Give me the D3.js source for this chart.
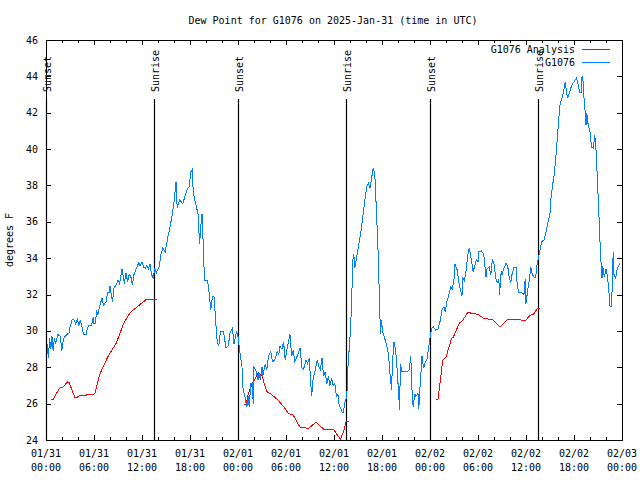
<!DOCTYPE html>
<html><head><meta charset="utf-8">
<script src="https://cdn.jsdelivr.net/npm/d3@7"></script>
<style>
body{margin:0;background:#fff;}
svg{display:block;}
text{font-family:"DejaVu Sans Mono",monospace;font-size:10px;fill:#000;}
</style></head><body>
<svg id="chart" width="640" height="480"></svg>
<script>
const chartTitle = "Dew Point for G1076 on 2025-Jan-31 (time in UTC)";
const yLabel = "degrees F";
const startTime = Date.UTC(2025, 0, 31, 0, 0);
const endTime = Date.UTC(2025, 1, 3, 0, 0);
const yTicks = [24, 26, 28, 30, 32, 34, 36, 38, 40, 42, 44, 46];
const seriesNames = ["G1076 Analysis", "G1076"];

// observed dew point (hours after 01/31 00:00 UTC)
const obsHours = [0.0,0.15,0.3,0.45,0.6,0.75,0.9,1.05,1.2,1.5,1.8,1.96,2.2,2.6,2.9,3.0,3.3,3.5,3.7,3.9,4.1,4.3,4.5,4.7,5.0,5.2,5.4,5.7,5.9,6.0,6.2,6.3,6.5,6.7,7.0,7.2,7.5,7.7,7.9,8.0,8.3,8.5,8.8,9.0,9.2,9.5,9.8,10.0,10.2,10.4,10.6,10.8,11.0,11.3,11.6,11.75,12.0,12.2,12.4,12.6,12.8,13.0,13.2,13.4,13.6,13.8,14.0,14.2,14.3,14.6,14.9,15.2,15.5,15.8,16.0,16.25,16.4,16.7,17.1,17.3,17.6,17.9,18.1,18.3,18.4,18.7,19.0,19.2,19.4,19.5,19.7,19.8,20.2,20.4,20.6,20.8,21.0,21.2,21.4,21.6,21.8,22.2,22.5,22.8,23.0,23.3,23.5,23.8,24.0,24.2,24.5,24.6,24.9,25.1,25.3,25.4,25.6,25.8,25.9,26.0,26.3,26.5,26.6,26.8,27.0,27.1,27.4,27.6,27.7,27.9,28.1,28.3,28.6,28.9,29.1,29.25,29.5,29.7,29.9,30.1,30.3,30.5,30.7,30.9,31.1,31.3,31.5,31.75,32.0,32.2,32.5,32.7,32.9,33.1,33.2,33.4,33.7,33.9,34.1,34.3,34.5,34.7,34.9,35.1,35.3,35.5,35.7,35.9,36.1,36.3,36.5,36.6,37.0,37.2,37.3,37.6,37.8,37.9,38.1,38.3,38.4,38.5,38.6,38.8,39.2,39.4,39.6,39.8,40.1,40.3,40.5,40.7,40.9,41.1,41.3,41.5,41.7,41.8,41.9,42.1,42.4,42.6,42.8,43.0,43.2,43.3,43.5,43.7,43.9,44.1,44.2,44.3,44.5,44.8,45.1,45.4,45.6,45.7,45.9,46.1,46.2,46.5,46.6,46.7,47.0,47.2,47.4,47.6,47.8,48.0,48.2,48.4,48.7,49.0,49.3,49.5,49.75,49.9,50.1,50.4,50.6,50.8,51.0,51.1,51.4,51.6,51.8,52.0,52.1,52.3,52.5,52.7,52.9,53.1,53.4,53.6,53.8,54.0,54.1,54.4,54.7,54.8,55.0,55.1,55.4,55.6,55.8,56.0,56.2,56.4,56.6,56.7,56.9,57.0,57.2,57.5,57.7,57.9,58.1,58.25,58.5,58.75,58.9,59.1,59.5,59.75,59.9,60.0,60.2,60.4,60.6,60.8,61.0,61.2,61.4,61.6,61.75,61.95,62.25,62.5,62.7,63.0,63.1,63.3,63.5,63.7,63.9,64.1,64.25,64.4,64.6,64.9,65.1,65.2,65.5,65.7,66.0,66.3,66.5,66.7,66.9,67.0,67.1,67.2,67.4,67.5,67.6,67.7,68.0,68.2,68.4,68.5,68.6,68.8,68.9,69.1,69.25,69.4,69.5,69.6,69.8,70.0,70.2,70.4,70.5,70.7,70.9,71.0,71.2,71.4,71.6,71.75];
const obsValues = [28.6,29.3,28.5,29.6,29.0,29.7,28.9,29.6,29.3,29.8,29.7,28.9,29.6,29.8,29.9,30.2,30.65,30.6,30.4,30.65,30.3,30.6,30.2,29.8,29.8,30.2,30.3,30.3,30.75,30.4,30.4,31.15,30.9,31.35,31.8,31.4,31.6,32.1,32.1,32.45,31.6,32.35,32.55,32.8,32.6,33.4,32.6,33.2,32.7,33.1,33.0,32.55,33.1,33.45,33.75,33.55,33.8,33.5,33.45,33.6,33.4,33.7,33.1,32.9,33.45,33.2,33.4,33.6,34.1,34.55,34.35,35.1,35.7,36.45,37.1,38.2,36.75,37.2,37.0,37.3,37.75,37.95,38.75,38.9,37.65,37.0,36.45,34.8,36.0,36.45,34.25,32.8,32.8,32.05,31.15,31.9,31.9,30.6,29.4,29.15,29.95,29.95,29.05,29.2,29.9,30.15,29.3,29.95,29.7,28.95,28.0,26.9,26.3,25.8,26.4,25.8,27.1,27.15,26.0,28.0,27.75,27.3,27.75,27.3,28.0,27.5,28.2,27.85,28.3,28.7,28.85,28.3,28.4,28.85,28.7,29.15,29.0,29.4,28.4,28.95,29.4,29.8,28.6,28.95,28.3,28.5,28.75,29.05,27.95,27.9,28.4,28.2,28.5,27.1,26.4,27.4,27.95,28.4,28.05,27.85,28.5,27.5,27.75,27.1,27.5,27.0,27.4,27.0,27.1,26.4,26.5,26.0,25.55,25.5,26.0,26.4,28.6,28.95,30.4,33.0,34.25,34.05,33.45,34.0,35.0,35.55,36.3,37.0,37.95,38.1,37.85,38.4,38.95,38.6,36.65,34.45,31.5,29.85,30.6,29.9,29.5,29.15,28.75,27.65,26.75,28.2,29.4,28.95,27.85,26.4,25.65,28.2,27.75,27.75,27.75,27.85,28.6,27.1,25.8,26.55,26.4,26.55,25.7,26.55,28.6,27.95,28.3,28.4,28.95,29.6,30.15,30.23,30.05,30.1,30.6,31.15,31.33,31.05,31.6,32.05,32.4,32.3,32.85,33.7,33.35,32.7,32.25,31.95,32.95,32.75,33.3,34.1,34.55,34.1,33.25,33.6,33.9,33.8,34.35,34.4,34.25,33.9,32.95,33.4,33.5,33.1,33.9,33.7,32.95,32.65,32.85,32.0,33.3,33.1,33.4,33.7,33.6,32.95,32.65,33.1,33.5,33.5,32.55,32.1,32.1,32.0,32.85,31.5,32.2,32.75,33.5,33.1,32.95,32.95,33.7,34.1,34.45,34.9,35.0,35.45,35.9,36.45,37.2,37.95,38.5,39.4,40.5,41.7,42.4,42.7,42.95,43.7,43.05,42.8,43.2,43.5,43.7,43.9,43.6,43.1,43.1,43.95,44.0,43.05,42.05,41.3,42.0,41.5,40.95,40.1,40.05,40.4,40.75,39.7,38.5,36.55,34.9,33.6,32.9,33.55,32.95,33.4,32.95,32.0,31.35,31.35,34.35,33.1,32.9,33.4,33.6,33.7];

// analysis dew point (null = gap)
const anaHours = [0.6,0.9,1.7,2.1,2.7,2.9,3.6,3.9,4.25,5.9,6.1,6.7,7.7,8.8,9.7,10.5,11.75,12.6,13.9,
  14.0,
  24.7,25.0,25.3,25.8,26.5,26.96,27.6,28.2,29.0,29.7,30.3,30.9,31.75,32.8,33.75,34.7,35.9,36.8,37.2,37.5,37.9,
  38.0,
  48.7,49.0,49.6,50.0,50.7,50.9,51.7,51.96,52.7,53.4,54.0,54.7,55.9,56.75,57.7,59.0,59.9,60.5,60.9,61.4,61.75];
const anaValues = [26.25,26.25,26.85,26.9,27.2,27.15,26.35,26.35,26.45,26.5,26.55,27.6,28.55,29.35,30.4,31.0,31.45,31.75,31.75,
  null,
  25.96,25.96,26.57,27.1,27.67,27.57,26.66,26.5,26.2,25.83,25.47,25.37,24.7,24.64,24.97,24.6,24.6,24.04,24.46,25.0,25.0,
  null,
  26.24,26.24,28.4,28.55,29.6,29.65,30.45,30.5,31.0,30.97,30.9,30.7,30.6,30.23,30.64,30.64,30.55,30.86,30.9,31.22,31.24];

const sunHours = [0.05, 13.55, 24.05, 37.55, 48.05, 61.5];
const sunLabels = ["Sunset","Sunrise","Sunset","Sunrise","Sunset","Sunrise"];

const colors = {analysis:"#ff0000", obs:"#0080ff"};

const svg = d3.select("#chart");
const m = {left:46, right:622, top:40, bottom:440};
const toDate = h => new Date(startTime + h*3600e3);
const x = d3.scaleUtc().domain([new Date(startTime), new Date(endTime)]).range([m.left, m.right]);
const y = d3.scaleLinear().domain([24, 46]).range([m.bottom, m.top]);

// title
svg.append("text").attr("x", 333).attr("y", 24).attr("text-anchor","middle").text(chartTitle);
// y label
svg.append("text").attr("transform","translate(13,240) rotate(-90)").attr("text-anchor","middle").text(yLabel);

// axes
const majorTicks = d3.utcHour.every(6).range(new Date(startTime), new Date(endTime + 1));
const minorTicks = d3.utcHour.every(2).range(new Date(startTime), new Date(endTime + 1));
const gx = svg.append("g").attr("shape-rendering","crispEdges");
minorTicks.forEach(t => {
  const px = Math.round(x(t)) + 0.5;
  const len = (t.getUTCHours() % 6 === 0) ? 5 : 3;
  gx.append("line").attr("x1",px).attr("x2",px).attr("y1",m.bottom).attr("y2",m.bottom-len).attr("stroke","#000");
  gx.append("line").attr("x1",px).attr("x2",px).attr("y1",m.top).attr("y2",m.top+len).attr("stroke","#000");
});
const fmtDay = d3.utcFormat("%m/%d"), fmtHour = d3.utcFormat("%H:%M");
majorTicks.forEach(t => {
  const px = x(t);
  const tx = gx.append("text").attr("x", px).attr("text-anchor","middle");
  tx.append("tspan").attr("x", px).attr("y", 457).text(fmtDay(t));
  tx.append("tspan").attr("x", px).attr("y", 471).text(fmtHour(t));
});
yTicks.forEach(v => {
  const py = Math.round(y(v)) + 0.5;
  gx.append("line").attr("x1",m.left).attr("x2",m.left+5).attr("y1",py).attr("y2",py).attr("stroke","#000");
  gx.append("line").attr("x1",m.right).attr("x2",m.right-5).attr("y1",py).attr("y2",py).attr("stroke","#000");
  gx.append("text").attr("x", 38).attr("y", y(v)+3.5).attr("text-anchor","end").text(v);
});

// sun lines
sunHours.forEach((h,i) => {
  const px = Math.round(x(toDate(h))) + 0.5;
  svg.append("line").attr("x1",px).attr("x2",px).attr("y1",99).attr("y2",m.bottom)
    .attr("stroke","#000").attr("stroke-width",1.2);
});

// series
const line = d3.line().defined(d => d[1] !== null).x(d => x(toDate(d[0]))).y(d => y(d[1]));
const anaData = anaHours.map((h,i) => [h, anaValues[i]]);
const obsData = obsHours.map((h,i) => [h, obsValues[i]]);
svg.append("path").datum(anaData).attr("d", line).attr("fill","none").attr("stroke",colors.analysis)
  .attr("stroke-width",1).attr("shape-rendering","crispEdges");
svg.append("path").datum(obsData).attr("d", line).attr("fill","none").attr("stroke",colors.obs)
  .attr("stroke-width",1).attr("shape-rendering","crispEdges");

// frame
svg.append("rect").attr("x",m.left+0.5).attr("y",m.top+0.5).attr("width",m.right-m.left).attr("height",m.bottom-m.top)
  .attr("fill","none").attr("stroke","#000").attr("shape-rendering","crispEdges");

// legend
const legendY = [49.5, 62.5];
const legendColors = [colors.analysis, colors.obs];
seriesNames.forEach((n,i) => {
  svg.append("text").attr("x", 575).attr("y", legendY[i]+3.5).attr("text-anchor","end").text(n);
  svg.append("line").attr("x1",582).attr("x2",610).attr("y1",legendY[i]).attr("y2",legendY[i])
    .attr("stroke",legendColors[i]).attr("stroke-width",1).attr("shape-rendering","crispEdges");
});

// sun labels
sunHours.forEach((h,i) => {
  const px = x(toDate(h)) + 4.5;
  svg.append("text").attr("transform",`translate(${px},92) rotate(-90)`).attr("text-anchor","start").text(sunLabels[i]);
});
</script>
</body></html>
